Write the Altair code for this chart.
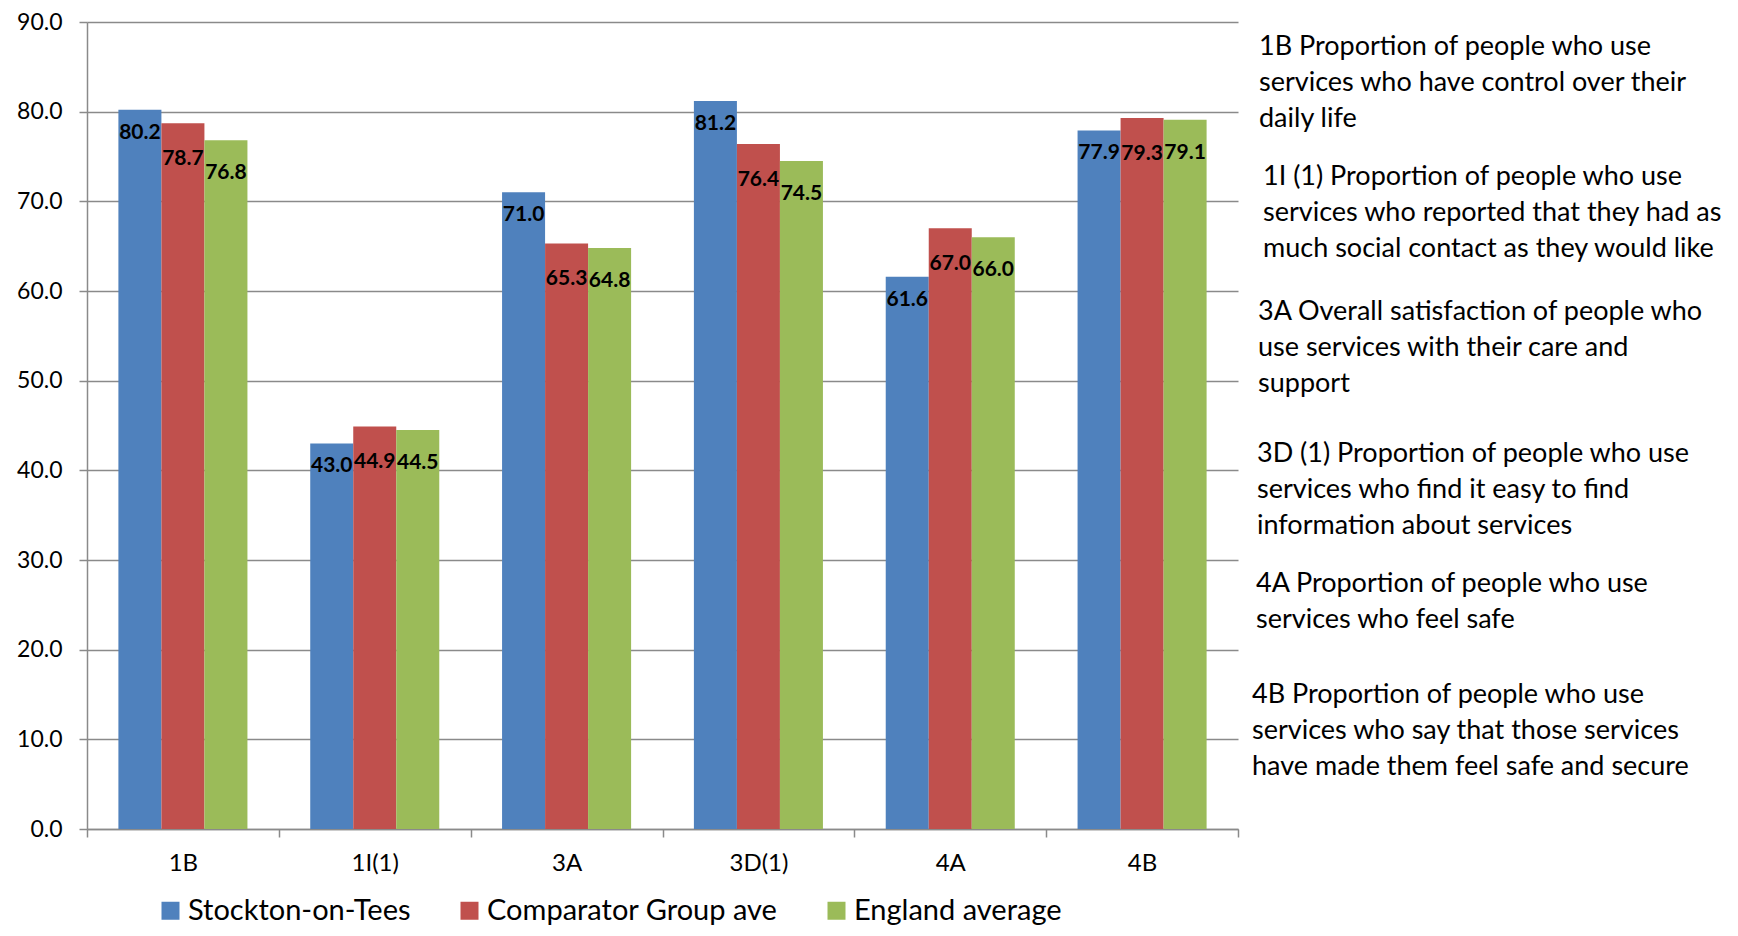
import altair as alt
import pandas as pd

categories = ["1B", "1I(1)", "3A", "3D(1)", "4A", "4B"]
series = ["Stockton-on-Tees", "Comparator Group ave", "England average"]
stockton = [80.2, 43.0, 71.0, 81.2, 61.6, 77.9]
comparator = [78.7, 44.9, 65.3, 76.4, 67.0, 79.3]
england = [76.8, 44.5, 64.8, 74.5, 66.0, 79.1]
colors = ["#4F81BD", "#C0504D", "#9BBB59"]

notes = [
    ["1B Proportion of people who use", "services who have control over their", "daily life"],
    ["1I (1) Proportion of people who use", "services who reported that they had as",
     "much social contact as they would like"],
    ["3A Overall satisfaction of people who", "use services with their care and", "support"],
    ["3D (1) Proportion of people who use", "services who find it easy to find",
     "information about services"],
    ["4A Proportion of people who use", "services who feel safe"],
    ["4B Proportion of people who use", "services who say that those services",
     "have made them feel safe and secure"],
]
# note anchor (x, first baseline y) in plot pixels
note_pos = [(1172, 33), (1176, 163), (1171, 298), (1170, 440), (1169, 570), (1165, 681)]
# label drop below bar top, per series (px)
label_dy = [12, 25, 22]

rows = []
for s, vals in zip(series, [stockton, comparator, england]):
    for c, v in zip(categories, vals):
        rows.append({"category": c, "series": s, "value": v})
df = pd.DataFrame(rows)

FONT = "Lato"
GRID = "#8a8a8a"

x_enc = alt.X(
    "category:N", sort=categories,
    scale=alt.Scale(paddingInner=0, paddingOuter=0),
    axis=alt.Axis(title=None, labelAngle=0, tickBand="extent", grid=False,
                  labelFontSize=24, labelPadding=14, tickSize=8),
)
xoff_enc = alt.XOffset("series:N", sort=series,
                       scale=alt.Scale(paddingInner=0, paddingOuter=0.73))
y_enc = alt.Y(
    "value:Q",
    scale=alt.Scale(domain=[0, 90], nice=False, zero=True),
    axis=alt.Axis(title=None, values=list(range(0, 100, 10)), format=".1f",
                  grid=True, labelFontSize=23, labelPadding=17, tickSize=8),
)
color_enc = alt.Color(
    "series:N", sort=series,
    scale=alt.Scale(domain=series, range=colors),
    legend=alt.Legend(
        title=None, orient="none", direction="horizontal",
        legendX=69, legendY=874, symbolType="square", symbolSize=324,
        symbolStrokeWidth=0, labelFontSize=29, labelFont=FONT, labelOffset=3,
        columnPadding=44, labelLimit=0, labelColor="black",
    ),
)

base = alt.Chart(df)
bars = base.mark_bar().encode(x=x_enc, xOffset=xoff_enc, y=y_enc, color=color_enc)

label_layers = []
for s, dy in zip(series, label_dy):
    label_layers.append(
        base.transform_filter(alt.datum.series == s)
        .mark_text(baseline="top", align="center", dy=dy, font=FONT,
                   fontSize=21, fontWeight="bold", color="black")
        .encode(x=x_enc, xOffset=xoff_enc, y=y_enc,
                text=alt.Text("value:Q", format=".1f"))
    )

note_layers = []
for lines, (nx, ny) in zip(notes, note_pos):
    note_layers.append(
        alt.Chart(alt.Data(values=[{}]))
        .mark_text(align="left", baseline="alphabetic", font=FONT, fontSize=27,
                   lineHeight=36, color="black")
        .encode(x=alt.value(nx), y=alt.value(ny), text=alt.value(lines))
    )

chart = alt.layer(bars, *label_layers, *note_layers).properties(
    width=1151, height=807,
    autosize=alt.AutoSizeParams(type="none"),
    padding={"left": 79, "top": 14, "right": 490, "bottom": 99},
).configure_view(stroke=None).configure_axis(
    domainColor=GRID, domainWidth=1.5, tickColor=GRID, tickWidth=1.5,
    gridColor=GRID, gridWidth=1.5, labelFont=FONT, labelColor="black",
)

chart.save("out.html", embed_options={"renderer": "svg", "actions": False})
